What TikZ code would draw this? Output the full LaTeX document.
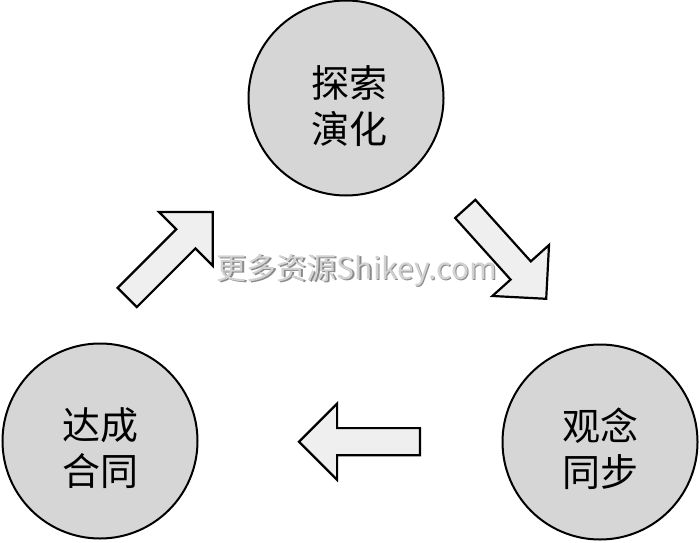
\documentclass[tikz,border=0pt]{standalone}
\usepackage{fontspec}
\newfontfamily\cjk{Noto Sans CJK SC}
\usetikzlibrary{shapes.arrows}
\definecolor{discfill}{HTML}{D6D6D6}
\definecolor{arrowfill}{HTML}{EFEFEF}
\definecolor{wmfill}{HTML}{D2D2D2}
\definecolor{wmshade}{HTML}{8A8A8A}
\begin{document}
\begin{tikzpicture}[x=1pt,y=1pt,
  stage/.style={circle, draw=black, line width=2pt, fill=discfill,
    minimum size=195pt, inner sep=0pt},
  stagetext/.style={font=\cjk\fontsize{38}{46}\selectfont, align=center,
    inner sep=0pt},
  blockarrow/.style={single arrow, draw=black, line width=2.2pt,
    line join=miter, fill=arrowfill, minimum height=121pt,
    inner xsep=0pt, inner ysep=12.5pt, single arrow head extend=24.5pt,
    outer sep=0pt, anchor=tip},
  wmtext/.style={font=\cjk\fontsize{30}{30}\selectfont, inner sep=0pt}
]
\useasboundingbox (0,0) rectangle (700,542);

% the three stages of the cycle
\node[stage] (explore) at (346,444) {};
\node[stage] (agree)   at (100,101) {};
\node[stage] (sync)    at (600,100) {};

\node[stagetext] (exploretxt) at ([xshift=3pt,yshift=-8pt]explore.center) {探索\\演化};
\node[stagetext] (agreetxt)   at ([yshift=-7pt]agree.center) {达成\\合同};
\node[stagetext] (synctxt)    at ([yshift=-7pt]sync.center) {观念\\同步};

% block arrows running clockwise between the stages, placed by their tips
\node[blockarrow, rotate=45]  (up)   at (212.8,330.1) {};
\node[blockarrow, rotate=-48] (down) at (546.2,243.2) {};
\node[blockarrow, rotate=180] (back) at (299.0,100.3) {};

% watermark text across the middle
\node[wmtext, text=wmshade] (wmshadow) at (358.2,270.8) {更多资源Shikey.com};
\node[wmtext, text=wmfill]  (wm)       at (357,272)     {更多资源Shikey.com};
\end{tikzpicture}
\end{document}
